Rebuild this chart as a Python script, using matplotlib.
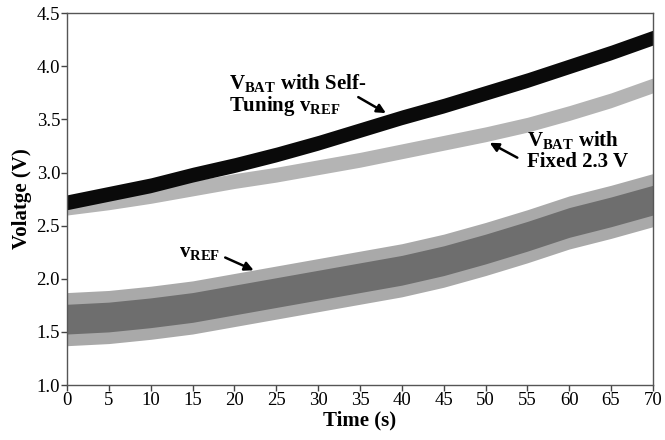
import matplotlib
matplotlib.use("Agg")
import matplotlib.pyplot as plt
import numpy as np

plt.rcParams['font.family'] = ['Liberation Serif', 'DejaVu Serif']
plt.rcParams['mathtext.fontset'] = 'custom'
plt.rcParams['mathtext.rm'] = 'Liberation Serif'
plt.rcParams['mathtext.bf'] = 'Liberation Serif:bold'
plt.rcParams['mathtext.it'] = 'Liberation Serif:italic'

# Data
time_s = [0, 5, 10, 15, 20, 25, 30, 35, 40, 45, 50, 55, 60, 65, 70]
vbat_selftuning = [2.72, 2.80, 2.88, 2.98, 3.07, 3.17, 3.28, 3.40, 3.52, 3.63, 3.75, 3.87, 4.00, 4.13, 4.27]
vbat_fixed = [2.67, 2.72, 2.78, 2.85, 2.92, 2.98, 3.05, 3.12, 3.20, 3.28, 3.36, 3.45, 3.56, 3.68, 3.82]
vref = [1.62, 1.64, 1.68, 1.73, 1.80, 1.87, 1.94, 2.01, 2.08, 2.17, 2.28, 2.40, 2.53, 2.63, 2.74]
# noise band half-widths (V)
hw_selftuning = 0.07
hw_fixed = 0.07
hw_vref_core = 0.14
hw_vref_spikes = 0.25

x_ticks = [0, 5, 10, 15, 20, 25, 30, 35, 40, 45, 50, 55, 60, 65, 70]
y_ticks = [1.0, 1.5, 2.0, 2.5, 3.0, 3.5, 4.0, 4.5]

t = np.array(time_s)
st = np.array(vbat_selftuning)
fx = np.array(vbat_fixed)
vr = np.array(vref)

fig = plt.figure(figsize=(6.65, 4.4), dpi=100)
ax = fig.add_axes([0.1008, 0.125, 0.881, 0.845])

ax.fill_between(t, vr - hw_vref_spikes, vr + hw_vref_spikes, color='#a9a9a9', lw=0)
ax.fill_between(t, vr - hw_vref_core, vr + hw_vref_core, color='#6e6e6e', lw=0)
ax.fill_between(t, fx - hw_fixed, fx + hw_fixed, color='#b4b4b4', lw=0)
ax.fill_between(t, st - hw_selftuning, st + hw_selftuning, color='#0a0a0a', lw=0)

ax.set_xlim(0, 70)
ax.set_ylim(1.0, 4.5)
ax.set_xticks(x_ticks)
ax.set_yticks(y_ticks)
ax.set_yticklabels([f'{v:.1f}' for v in y_ticks])
ax.tick_params(direction='out', length=4, width=1, labelsize=13.5, color='#444444', pad=1)
for s in ax.spines.values():
    s.set_color('#555555')
    s.set_linewidth(1)

ax.set_xlabel('Time (s)', fontsize=15, fontweight='bold', labelpad=1)
ax.set_ylabel('Volatge (V)', fontsize=15, fontweight='bold', labelpad=3)

# annotation texts
ax.text(19.4, 3.73, r'$\mathbf{V}_{\mathbf{BAT}}$ with Self-' + '\n' + r'Tuning $\mathbf{v}_{\mathbf{REF}}$',
        fontsize=15, fontweight='bold', ha='left', va='center', linespacing=1.05)
ax.text(54.9, 3.21, r'$\mathbf{V}_{\mathbf{BAT}}$ with' + '\n' + 'Fixed 2.3 V',
        fontsize=15, fontweight='bold', ha='left', va='center', linespacing=1.05)
ax.text(13.4, 2.25, r'$\mathbf{v}_{\mathbf{REF}}$',
        fontsize=15, fontweight='bold', ha='left', va='center')

# arrows
akw = dict(arrowstyle='-|>', color='black', lw=1.8, mutation_scale=13, shrinkA=0, shrinkB=0)
ax.annotate('', xy=(38.1, 3.56), xytext=(34.8, 3.71), arrowprops=akw)
ax.annotate('', xy=(50.5, 3.28), xytext=(53.8, 3.14), arrowprops=akw)
ax.annotate('', xy=(22.3, 2.08), xytext=(18.9, 2.20), arrowprops=akw)

fig.savefig('out.png', dpi=100)
